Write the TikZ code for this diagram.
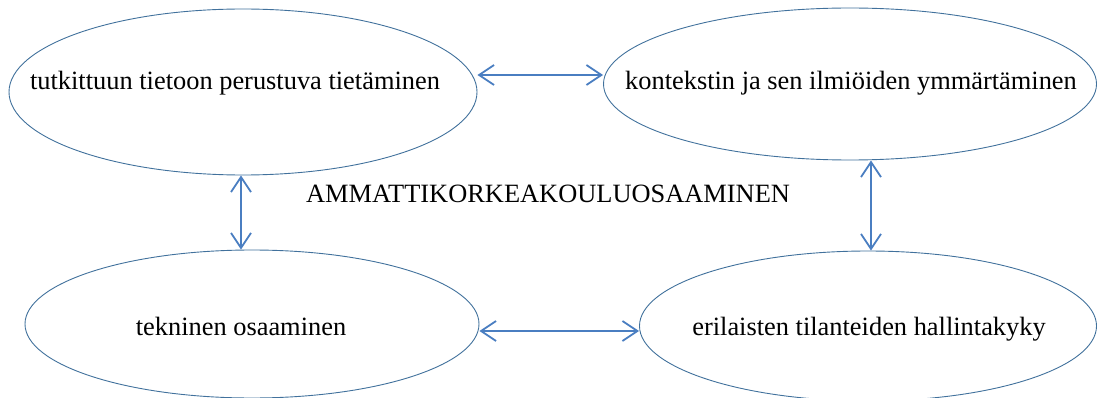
\documentclass[tikz,border=0pt]{standalone}
\usepackage{fontspec}
\setmainfont{Liberation Serif}
\usetikzlibrary{shapes.geometric,arrows.meta}
\definecolor{ovalblue}{RGB}{65,113,156}
\definecolor{arrowblue}{RGB}{74,126,193}
\begin{document}
\begin{tikzpicture}[x=1pt,y=-1pt,
  oval/.style={ellipse, draw=ovalblue, line width=0.9pt, inner sep=0pt},
  lbl/.style={anchor=base, inner sep=0pt, font=\fontsize{26.4}{30}\selectfont},
  barb/.tip={Straight Barb[length=15pt,width=20pt,line width=1.8pt]},
  link/.style={draw=arrowblue, line width=1.8pt, barb-barb}]
\useasboundingbox (0,0) rectangle (1097,398);

% the four competence areas
\node[oval, minimum width=468pt, minimum height=166pt] (e1) at (243,92) {};
\node[oval, minimum width=493pt, minimum height=152pt] (e2) at (850,84) {};
\node[oval, minimum width=454pt, minimum height=148pt] (e3) at (252,324) {};
\node[oval, minimum width=457pt, minimum height=150pt] (e4) at (868,326) {};

\node[lbl] (t1) at (235,90) {tutkittuun tietoon perustuva tietäminen};
\node[lbl] (t2) at (851,90) {kontekstin ja sen ilmiöiden ymmärtäminen};
\node[lbl] (t3) at (241,335) {tekninen osaaminen};
\node[lbl] (t4) at (869,335) {erilaisten tilanteiden hallintakyky};

% central title
\node[lbl] (title) at (548,203) {AMMATTIKORKEAKOULUOSAAMINEN};

% two-way links between the areas
\draw[link] (e1.east |- 0,75) -- (e2.west |- 0,75);
\draw[link] (e1.south -| 241,0) -- (e3.north -| 241,0);
\draw[link] (e2.south -| 871,0) -- (e4.north -| 871,0);
\draw[link] (e3.east |- 0,331) -- (e4.west |- 0,331);
\end{tikzpicture}
\end{document}
